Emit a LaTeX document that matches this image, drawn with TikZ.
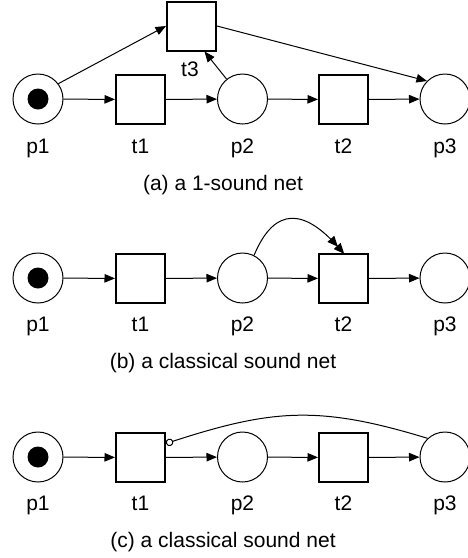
\documentclass[tikz,border=0pt]{standalone}
\usepackage{fontspec}
\setmainfont{Liberation Sans}
\usetikzlibrary{arrows.meta,calc}
\begin{document}
\begin{tikzpicture}[x=1pt,y=1pt,
 place/.style={circle,draw,line width=1pt,minimum size=50pt,inner sep=0pt},
 trans/.style={rectangle,draw,line width=2pt,minimum size=49pt,inner sep=0pt},
 token/.style={circle,fill=black,minimum size=21pt,inner sep=0pt},
 lab/.style={font=\fontsize{21}{25}\selectfont,anchor=base,inner sep=0pt},
 arc/.style={line width=1pt,-{Triangle[length=10.5pt,width=8.5pt]}},
 warc/.style={line width=1pt,-{Triangle[length=10.5pt,width=9pt,sep=-1pt]Triangle[length=10.5pt,width=9pt,sep=-1pt]}},
 resetarc/.style={line width=1pt,-{Circle[open,length=7.5pt]}},
]
\useasboundingbox (0,0) rectangle (468,-558);

% ---------- (a) ----------
\node[place] (p1a) at (38,-99) {};
\node[token] (k1a) at (38,-99) {};
\node[trans] (t1a) at (140.5,-99.5) {};
\node[place] (p2a) at (242.5,-99) {};
\node[trans] (t2a) at (343.5,-99.5) {};
\node[place] (p3a) at (445,-99) {};
\node[trans] (t3a) at (191.5,-26) {};
\node[lab] (l3a) at (190,-76) {t3};
\node[lab] (lp1a) at (38,-153) {p1};
\node[lab] (lt1a) at (140.5,-153) {t1};
\node[lab] (lp2a) at (242.5,-153) {p2};
\node[lab] (lt2a) at (343.5,-153) {t2};
\node[lab] (lp3a) at (445,-153) {p3};
\node[lab] (capa) at (223,-190) {(a) a 1-sound net};
\draw[arc] (p1a) -- (t1a);
\draw[arc] (t1a) -- (p2a);
\draw[arc] (p2a) -- (t2a);
\draw[arc] (t2a) -- (p3a);
\draw[arc] (p1a.37) -- (t3a.west);
\draw[arc] (p2a) -- ([xshift=13pt]t3a.south);
\draw[arc] (t3a.east) -- (p3a.135);

% ---------- (b) ----------
\node[place] (p1b) at (38,-278) {};
\node[token] (k1b) at (38,-278) {};
\node[trans] (t1b) at (140.5,-278.5) {};
\node[place] (p2b) at (242.5,-278) {};
\node[trans] (t2b) at (343.5,-278.5) {};
\node[place] (p3b) at (445,-278) {};
\node[lab] (lp1b) at (38,-331.5) {p1};
\node[lab] (lt1b) at (140.5,-331.5) {t1};
\node[lab] (lp2b) at (242.5,-331.5) {p2};
\node[lab] (lt2b) at (343.5,-331.5) {t2};
\node[lab] (lp3b) at (445,-331.5) {p3};
\node[lab] (capb) at (223,-368.5) {(b) a classical sound net};
\draw[arc] (p1b) -- (t1b);
\draw[arc] (t1b) -- (p2b);
\draw[arc] (p2b) -- (t2b);
\draw[arc] (t2b) -- (p3b);
\draw[warc] (p2b.63) .. controls (275,-205) and (305,-210) .. (t2b.north);

% ---------- (c) ----------
\node[place] (p1c) at (38,-457) {};
\node[token] (k1c) at (38,-457) {};
\node[trans] (t1c) at (140.5,-457.5) {};
\node[place] (p2c) at (242.5,-457) {};
\node[trans] (t2c) at (343.5,-457.5) {};
\node[place] (p3c) at (445,-457) {};
\node[lab] (lp1c) at (38,-510.5) {p1};
\node[lab] (lt1c) at (140.5,-510.5) {t1};
\node[lab] (lp2c) at (242.5,-510.5) {p2};
\node[lab] (lt2c) at (343.5,-510.5) {t2};
\node[lab] (lp3c) at (445,-510.5) {p3};
\node[lab] (capc) at (223,-547.5) {(c) a classical sound net};
\draw[arc] (p1c) -- (t1c);
\draw[arc] (t1c) -- (p2c);
\draw[arc] (p2c) -- (t2c);
\draw[arc] (t2c) -- (p3c);
\coordinate (rc) at ($(t1c.east)+(0,14)$);
\draw[resetarc] (p3c.133) to[out=163,in=18,looseness=1.1] (rc);
\end{tikzpicture}
\end{document}
